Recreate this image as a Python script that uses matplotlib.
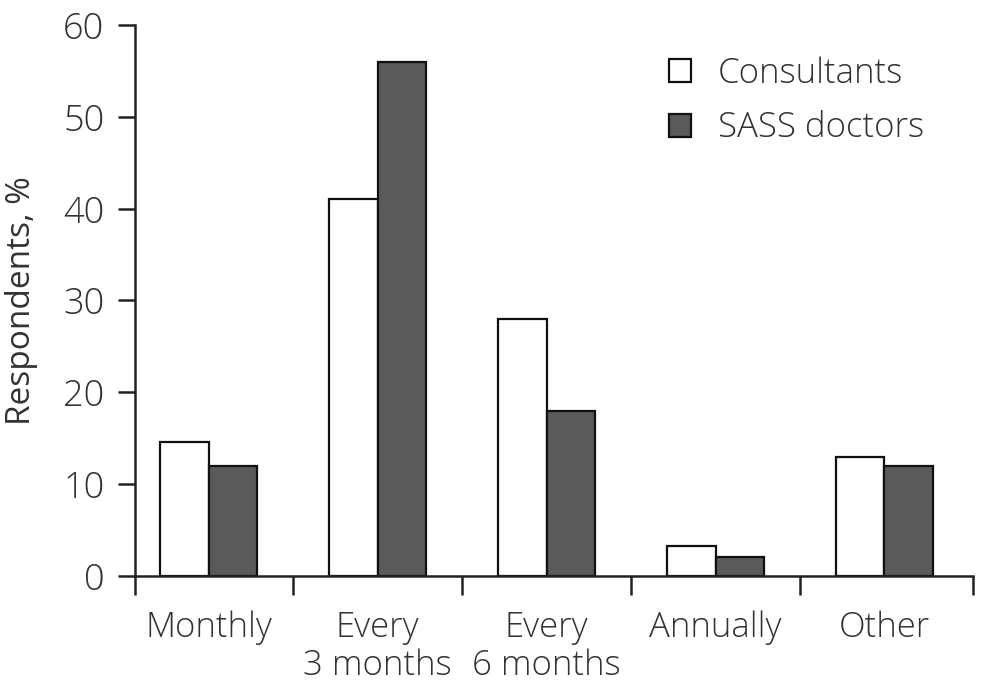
import matplotlib
matplotlib.use("Agg")
import matplotlib.pyplot as plt
import numpy as np

categories = ["Monthly", "Every\n3 months", "Every\n6 months", "Annually", "Other"]
consultants = [14.6, 41, 28, 3.3, 13]
sass = [12, 56, 18, 2.1, 12]
yticks = [0, 10, 20, 30, 40, 50, 60]

plt.rcParams['font.family'] = ['Open Sans', 'DejaVu Sans']
plt.rcParams['font.weight'] = 'light'
txt = '#333333'

fig = plt.figure(figsize=(9.98, 6.83), dpi=100)
ax = fig.add_axes([0.1353, 0.1567, 0.975 - 0.1353, 0.9634 - 0.1567])

x = np.arange(len(categories))
w = 0.287
ax.bar(x - w/2, consultants, width=w, color='white', edgecolor='#111111', linewidth=1.6, label='Consultants')
ax.bar(x + w/2, sass, width=w, color='#5a5a5a', edgecolor='#111111', linewidth=1.6, label='SASS doctors')

ax.set_xlim(-0.435, 4.524)
ax.set_ylim(0, 60)
ax.set_yticks(yticks)
ax.tick_params(axis='y', direction='out', length=12, width=1.8, color='#222222', labelsize=26, labelcolor=txt, pad=10)

# category separator ticks on the x axis
sep = np.concatenate(([-0.435], np.arange(len(categories) - 1) + 0.5, [4.524]))
ax.set_xticks(sep)
ax.set_xticklabels([])
ax.tick_params(axis='x', direction='out', length=14, width=1.8, color='#222222')
ax.set_xticks(x, minor=True)
ax.set_xticklabels(categories, minor=True, fontsize=25, color=txt, linespacing=1.13, va='top')
ax.tick_params(axis='x', which='minor', length=0, pad=25)

for s in ['top', 'right']:
    ax.spines[s].set_visible(False)
for s in ['left', 'bottom']:
    ax.spines[s].set_linewidth(1.8)
    ax.spines[s].set_color('#222222')

ax.set_ylabel('Respondents, %', fontsize=24, color=txt, labelpad=18)

leg = ax.legend(loc='upper left', bbox_to_anchor=(0.60, 1.0), frameon=False, fontsize=25,
                handlelength=0.63, handleheight=0.63, handletextpad=0.78, labelspacing=0.58, labelcolor=txt)

fig.savefig('out.png', dpi=100, facecolor='white')
